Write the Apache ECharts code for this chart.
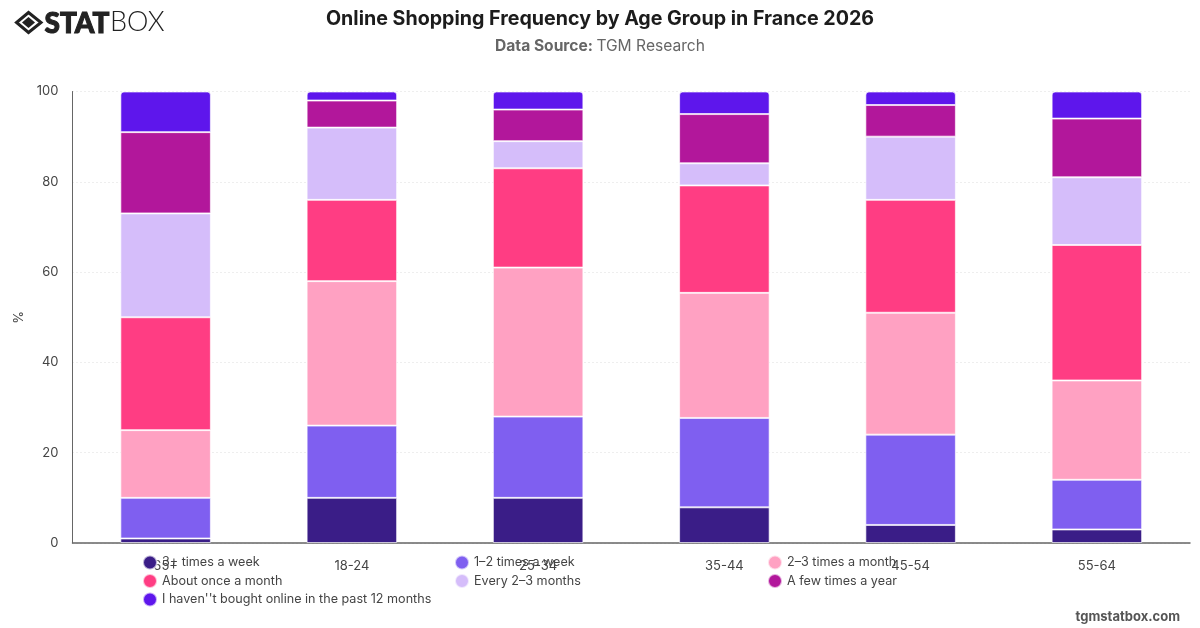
<!DOCTYPE html>
<html>
<head>
<meta charset="utf-8">
<style>html,body{margin:0;padding:0;background:#fff}#chart{width:1200px;height:628px}</style>
<script src="https://cdn.jsdelivr.net/npm/echarts@6/dist/echarts.min.js"></script>
</head>
<body>
<div id="chart"></div>
<script>
// Age groups along the category axis
const ageGroups = ['65+', '18-24', '25-34', '35-44', '45-54', '55-64'];

// Share of respondents (%) per frequency answer
const threePlusWeekly = [1, 10, 10, 7.9, 4, 3];
const oneTwoWeekly = [9, 16, 18, 19.8, 20, 11];
const twoThreeMonthly = [15, 32, 33, 27.7, 27, 22];
const onceMonthly = [25, 18, 22, 23.8, 25, 30];
const everyTwoThreeMonths = [23, 16, 6, 4.9, 14, 15];
const fewTimesYear = [18, 6, 7, 10.9, 7, 13];
const notOnline = [9, 2, 4, 5, 3, 6];

const yTicks = [0, 20, 40, 60, 80, 100];

const seriesDefs = [
  ['3+ times a week', threePlusWeekly, '#3A1D87'],
  ['1–2 times a week', oneTwoWeekly, '#7F5FF0'],
  ['2–3 times a month', twoThreeMonthly, '#FFA1C2'],
  ['About once a month', onceMonthly, '#FF3D83'],
  ['Every 2–3 months', everyTwoThreeMonths, '#D5BDFA'],
  ['A few times a year', fewTimesYear, '#B2179B'],
  ["I haven''t bought online in the past 12 months", notOnline, '#5E16EC']
];

const FONT = 'Inter, "Noto Sans", sans-serif';

// Three-column legend, filled row by row
function legendColumn(left, names) {
  return {
    left, top: 554.5, orient: 'vertical', padding: 0, itemGap: 2.5,
    itemWidth: 14, itemHeight: 15, icon: 'circle', z: 10,
    textStyle: { fontFamily: FONT, fontSize: 12.6, color: '#444', padding: 0 },
    data: names
  };
}

const chart = echarts.init(document.getElementById('chart'), null, { renderer: 'canvas' });

chart.setOption({
  animation: false,
  backgroundColor: '#fff',
  textStyle: { fontFamily: FONT },
  title: {
    left: 'center', top: 9, padding: 0, itemGap: 9,
    text: 'Online Shopping Frequency by Age Group in France 2026',
    textStyle: { fontFamily: FONT, fontSize: 19.65, fontWeight: 700, color: '#1c1c1c' },
    subtext: '{b|Data Source:} {n|TGM Research}',
    subtextStyle: {
      rich: {
        b: { fontFamily: FONT, fontSize: 15.6, fontWeight: 700, color: '#666' },
        n: { fontFamily: FONT, fontSize: 15.6, color: '#666' }
      }
    }
  },
  legend: [
    legendColumn(142, [seriesDefs[0][0], seriesDefs[3][0], seriesDefs[6][0]]),
    legendColumn(454, [seriesDefs[1][0], seriesDefs[4][0]]),
    legendColumn(767, [seriesDefs[2][0], seriesDefs[5][0]])
  ],
  grid: { left: 72.5, right: 10, top: 91.5, bottom: 85 },
  xAxis: {
    type: 'category',
    data: ageGroups,
    axisTick: { show: false },
    axisLine: { lineStyle: { color: '#666', width: 1.5 } },
    axisLabel: { color: '#444', fontSize: 13, margin: 17, fontFamily: FONT }
  },
  yAxis: {
    type: 'value', min: yTicks[0], max: yTicks[yTicks.length - 1], interval: yTicks[1] - yTicks[0],
    name: '%', nameLocation: 'middle', nameGap: 44, nameRotate: 90,
    nameTextStyle: { color: '#444', fontSize: 13, fontFamily: FONT },
    axisLine: { show: true, lineStyle: { color: '#666', width: 1 } },
    axisTick: { show: false },
    axisLabel: { color: '#444', fontSize: 13, margin: 14, padding: [4, 0, 0, 0], fontFamily: FONT },
    splitLine: { lineStyle: { color: '#dcdcdc', type: [1, 3], width: 1 } }
  },
  series: seriesDefs.map(([name, data, color], i) => ({
    name, data, type: 'bar', stack: 'freq', barWidth: '48.6%',
    itemStyle: {
      color,
      borderColor: 'rgba(255,255,255,0.65)',
      borderWidth: 1,
      borderRadius: i === seriesDefs.length - 1 ? [3, 3, 0, 0] : 0
    }
  })),
  graphic: [
    // Brand mark: outer diamond frame and solid centre
    {
      type: 'polygon', z: 20,
      shape: { points: [[28.5, 12.5], [41, 22.5], [28.5, 32.5], [16.5, 22.5]] },
      style: { fill: 'none', stroke: '#222', lineWidth: 3 }
    },
    {
      type: 'polygon', z: 20,
      shape: { points: [[28.5, 17], [35, 22.5], [28.5, 28], [22, 22.5]] },
      style: { fill: '#222' }
    },
    {
      type: 'text', z: 20, left: 44, top: 9,
      style: { text: 'STAT', fontFamily: 'Lato, sans-serif', fontWeight: 900, fontSize: 28, fill: '#222', stroke: '#222', lineWidth: 1 }
    },
    {
      type: 'text', z: 20, left: 110, top: 9,
      style: { text: 'BOX', fontFamily: 'Lato, sans-serif', fontWeight: 300, fontSize: 27, fill: '#222' }
    },
    {
      type: 'text', z: 20, right: 20, top: 611,
      style: { text: 'tgmstatbox.com', fontFamily: FONT, fontWeight: 700, fontSize: 13, fill: '#555' }
    }
  ]
});
</script>
</body>
</html>
